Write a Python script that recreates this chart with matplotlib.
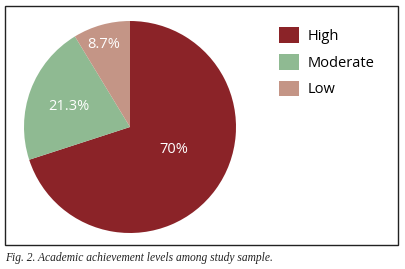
import matplotlib
matplotlib.use('Agg')
import matplotlib.pyplot as plt
from matplotlib.patches import Rectangle

# data
levels = ['High', 'Moderate', 'Low']
shares = [70, 21.3, 8.7]
pct_labels = ['70%', '21.3%', '8.7%']
colors = ['#8b2328', '#8fba92', '#c49586']

fig = plt.figure(figsize=(4.05, 2.69), dpi=100)
fig.patch.set_facecolor('white')

# frame around the chart
fig.patches.append(Rectangle((5 / 405, 1 - 245 / 269), 393 / 405, 239 / 269,
                             transform=fig.transFigure, fill=False,
                             edgecolor='#222222', linewidth=1.0))

ax = fig.add_axes([24 / 405, 36 / 269, 212 / 405, 212 / 269])
wedges, _ = ax.pie(shares, colors=colors, startangle=90, counterclock=False,
                   radius=1.0, wedgeprops=dict(linewidth=0))
ax.set_xlim(-1, 1)
ax.set_ylim(-1, 1)
ax.set_aspect('equal')

# label positions (relative to pie radius)
label_pos = [(0.415, -0.208), (-0.575, 0.198), (-0.245, 0.783)]
for (x, y), txt in zip(label_pos, pct_labels):
    ax.text(x, y, txt, color='white', fontsize=10.5, family='Open Sans',
            ha='center', va='center')

leg = fig.legend(wedges, levels, loc='upper left',
                 bbox_to_anchor=(279 / 405, 1 - 27 / 269),
                 frameon=False, borderpad=0, borderaxespad=0,
                 handlelength=1.37, handleheight=1.3,
                 handletextpad=0.6, labelspacing=0.68,
                 prop={'family': 'Open Sans', 'size': 10.5})

fig.text(5 / 405, 1 - 258 / 269, 'Fig. 2. Academic achievement levels among study sample.',
         family='Liberation Serif', style='italic', fontsize=8.3,
         ha='left', va='center', color='#222222')

fig.savefig('out.png', dpi=100)
